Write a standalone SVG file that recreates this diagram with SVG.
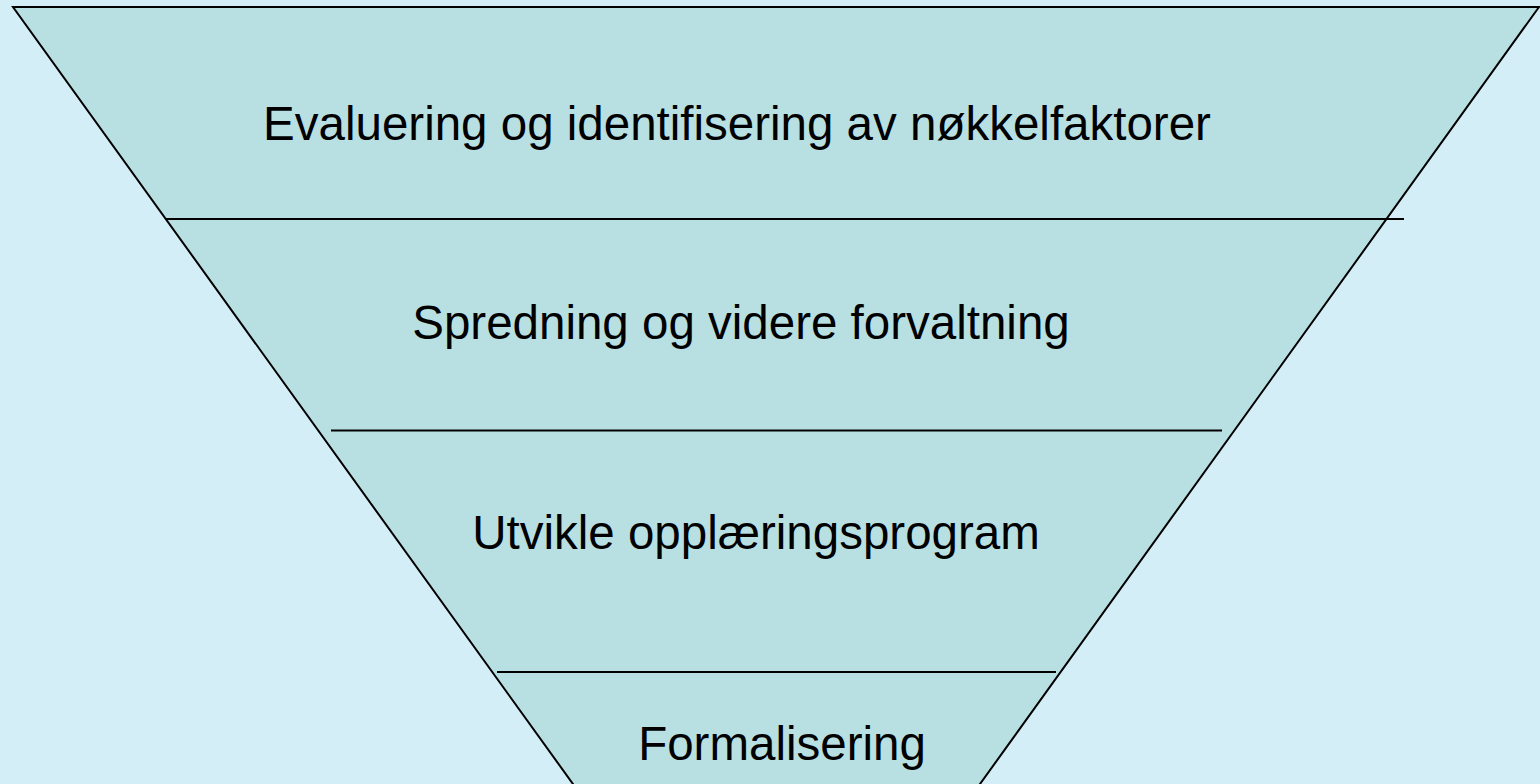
<svg xmlns="http://www.w3.org/2000/svg" width="1540" height="784" viewBox="0 0 1540 784">
<style>
.lbl{font-family:"Liberation Sans",Arial,sans-serif;font-size:47.5px;fill:#000;text-anchor:middle}
.ln{stroke:#000;stroke-width:2;fill:none}
</style>
<rect x="0" y="0" width="1540" height="784" fill="#D4EEF8"/>
<g id="funnel">
<polygon points="13,7 1539,7 968.5,800 584.5,800" fill="#B8E0E3" stroke="#000" stroke-width="2" stroke-linejoin="miter"/>
</g>
<g id="connectors">
<line class="ln" x1="165" y1="219" x2="1404" y2="219"/>
<line class="ln" x1="331" y1="430.5" x2="1222" y2="430.5"/>
<line class="ln" x1="497" y1="672" x2="1056" y2="672"/>
</g>
<g id="node1"><text class="lbl" x="737" y="140">Evaluering og identifisering av nøkkelfaktorer</text></g>
<g id="node2"><text class="lbl" x="741" y="339">Spredning og videre forvaltning</text></g>
<g id="node3"><text class="lbl" x="756" y="549">Utvikle opplæringsprogram</text></g>
<g id="node4"><text class="lbl" x="782" y="760">Formalisering</text></g>
</svg>
